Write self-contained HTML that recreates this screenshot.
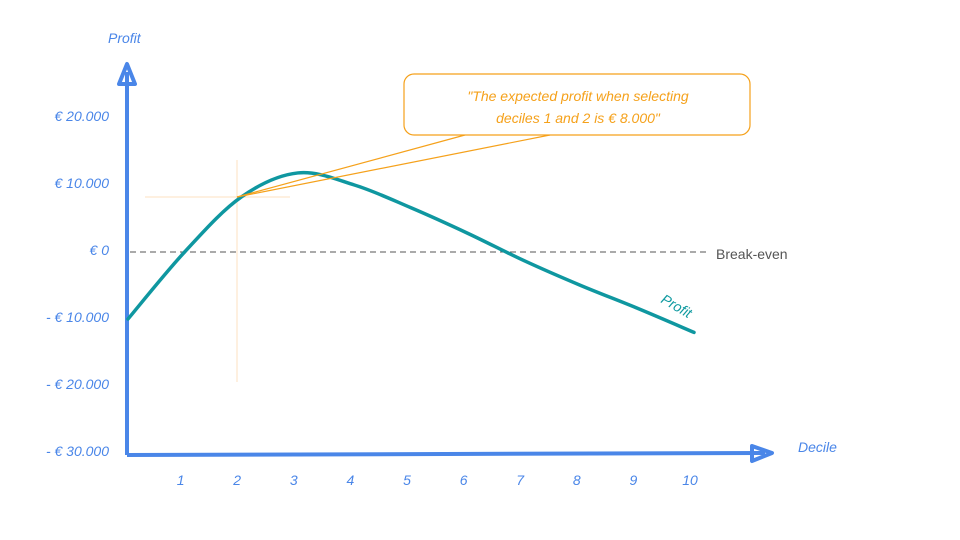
<!DOCTYPE html>
<html><head><meta charset="utf-8"><style>
html,body{margin:0;padding:0;background:#fff;}
svg{display:block;font-family:"Liberation Sans",sans-serif;}
</style></head><body>
<svg id="chart" width="960" height="540" viewBox="0 0 960 540">
<g id="axes">
<line x1="127" y1="455" x2="127" y2="72" stroke="#4a86e8" stroke-width="4"/>
<polygon points="119,84 127,64 135,84" fill="none" stroke="#4a86e8" stroke-width="4" stroke-linejoin="round"/>
<line x1="127" y1="455" x2="765" y2="453" stroke="#4a86e8" stroke-width="4"/>
<polygon points="752,446 772,453 752,461" fill="none" stroke="#4a86e8" stroke-width="4" stroke-linejoin="round"/>
<text x="108" y="43" font-size="14" fill="#4a86e8" font-style="italic">Profit</text>
<text x="798" y="452" font-size="14" fill="#4a86e8" font-style="italic">Decile</text>
</g>
<line x1="130" y1="252" x2="706" y2="252" stroke="#555" stroke-width="1" stroke-dasharray="6,4"/>
<text x="716" y="259" font-size="14" fill="#555">Break-even</text>
<line x1="145" y1="197" x2="290" y2="197" stroke="#fde2c0" stroke-width="1"/>
<line x1="237" y1="160" x2="237" y2="382" stroke="#fde2c0" stroke-width="1"/>
<g id="ticks"></g>
<path id="curve" fill="none" stroke="#0f97a0" stroke-width="3.5" stroke-linecap="round"/>
<text x="660" y="302" font-size="14" fill="#0f9aa0" font-style="italic" transform="rotate(30 660 302)">Profit</text>
<g>
<line x1="237" y1="197" x2="465" y2="135" stroke="#f5a11b" stroke-width="1.2"/>
<line x1="237" y1="197" x2="550" y2="135" stroke="#f5a11b" stroke-width="1.2"/>
<rect x="404" y="74" width="346" height="61" rx="10" fill="#fff" stroke="#f5a11b" stroke-width="1.2"/>
<text x="578" y="101" font-size="14" fill="#f5a11b" text-anchor="middle" font-style="italic">"The expected profit when selecting</text>
<text x="578" y="123" font-size="14" fill="#f5a11b" text-anchor="middle" font-style="italic">deciles 1 and 2 is € 8.000"</text>
</g>
</svg>
<script>
const deciles=[0,1,2,3,4,5,6,7,8,9,10];
const profit=[-10000,0,8200,11800,10000,6600,2800,-1300,-5000,-8400,-12000];
const yTickValues=[20000,10000,0,-10000,-20000,-30000];
const yTickLabels=["€ 20.000","€ 10.000","€ 0","- € 10.000","- € 20.000","- € 30.000"];
const xTickLabels=["1","2","3","4","5","6","7","8","9","10"];
const xS=d=>128+d*56.6;
const yS=v=>252-v*0.0067;
const ns="http://www.w3.org/2000/svg";
const g=document.getElementById('ticks');
yTickValues.forEach((v,i)=>{const t=document.createElementNS(ns,'text');


t.setAttribute('x',109);t.setAttribute('y',yS(v)+3);t.setAttribute('text-anchor','end');
t.setAttribute('font-size','14');t.setAttribute('fill','#4a86e8');t.setAttribute('font-style','italic');
t.textContent=yTickLabels[i];g.appendChild(t);});
xTickLabels.forEach((l,i)=>{const t=document.createElementNS(ns,'text');


t.setAttribute('x',xS(i+1)-4);t.setAttribute('y',485);t.setAttribute('text-anchor','middle');
t.setAttribute('font-size','14');t.setAttribute('fill','#4a86e8');t.setAttribute('font-style','italic');
t.textContent=l;g.appendChild(t);});
const pts=deciles.map((d,i)=>[xS(d),yS(profit[i])]);
let d=`M${pts[0][0]},${pts[0][1]}`;
for(let i=0;i<pts.length-1;i++){const p0=pts[i-1]||pts[i],p1=pts[i],p2=pts[i+1],p3=pts[i+2]||p2;
d+=` C${p1[0]+(p2[0]-p0[0])/6},${p1[1]+(p2[1]-p0[1])/6} ${p2[0]-(p3[0]-p1[0])/6},${p2[1]-(p3[1]-p1[1])/6} ${p2[0]},${p2[1]}`;}
document.getElementById('curve').setAttribute('d',d);
</script>
</body></html>
